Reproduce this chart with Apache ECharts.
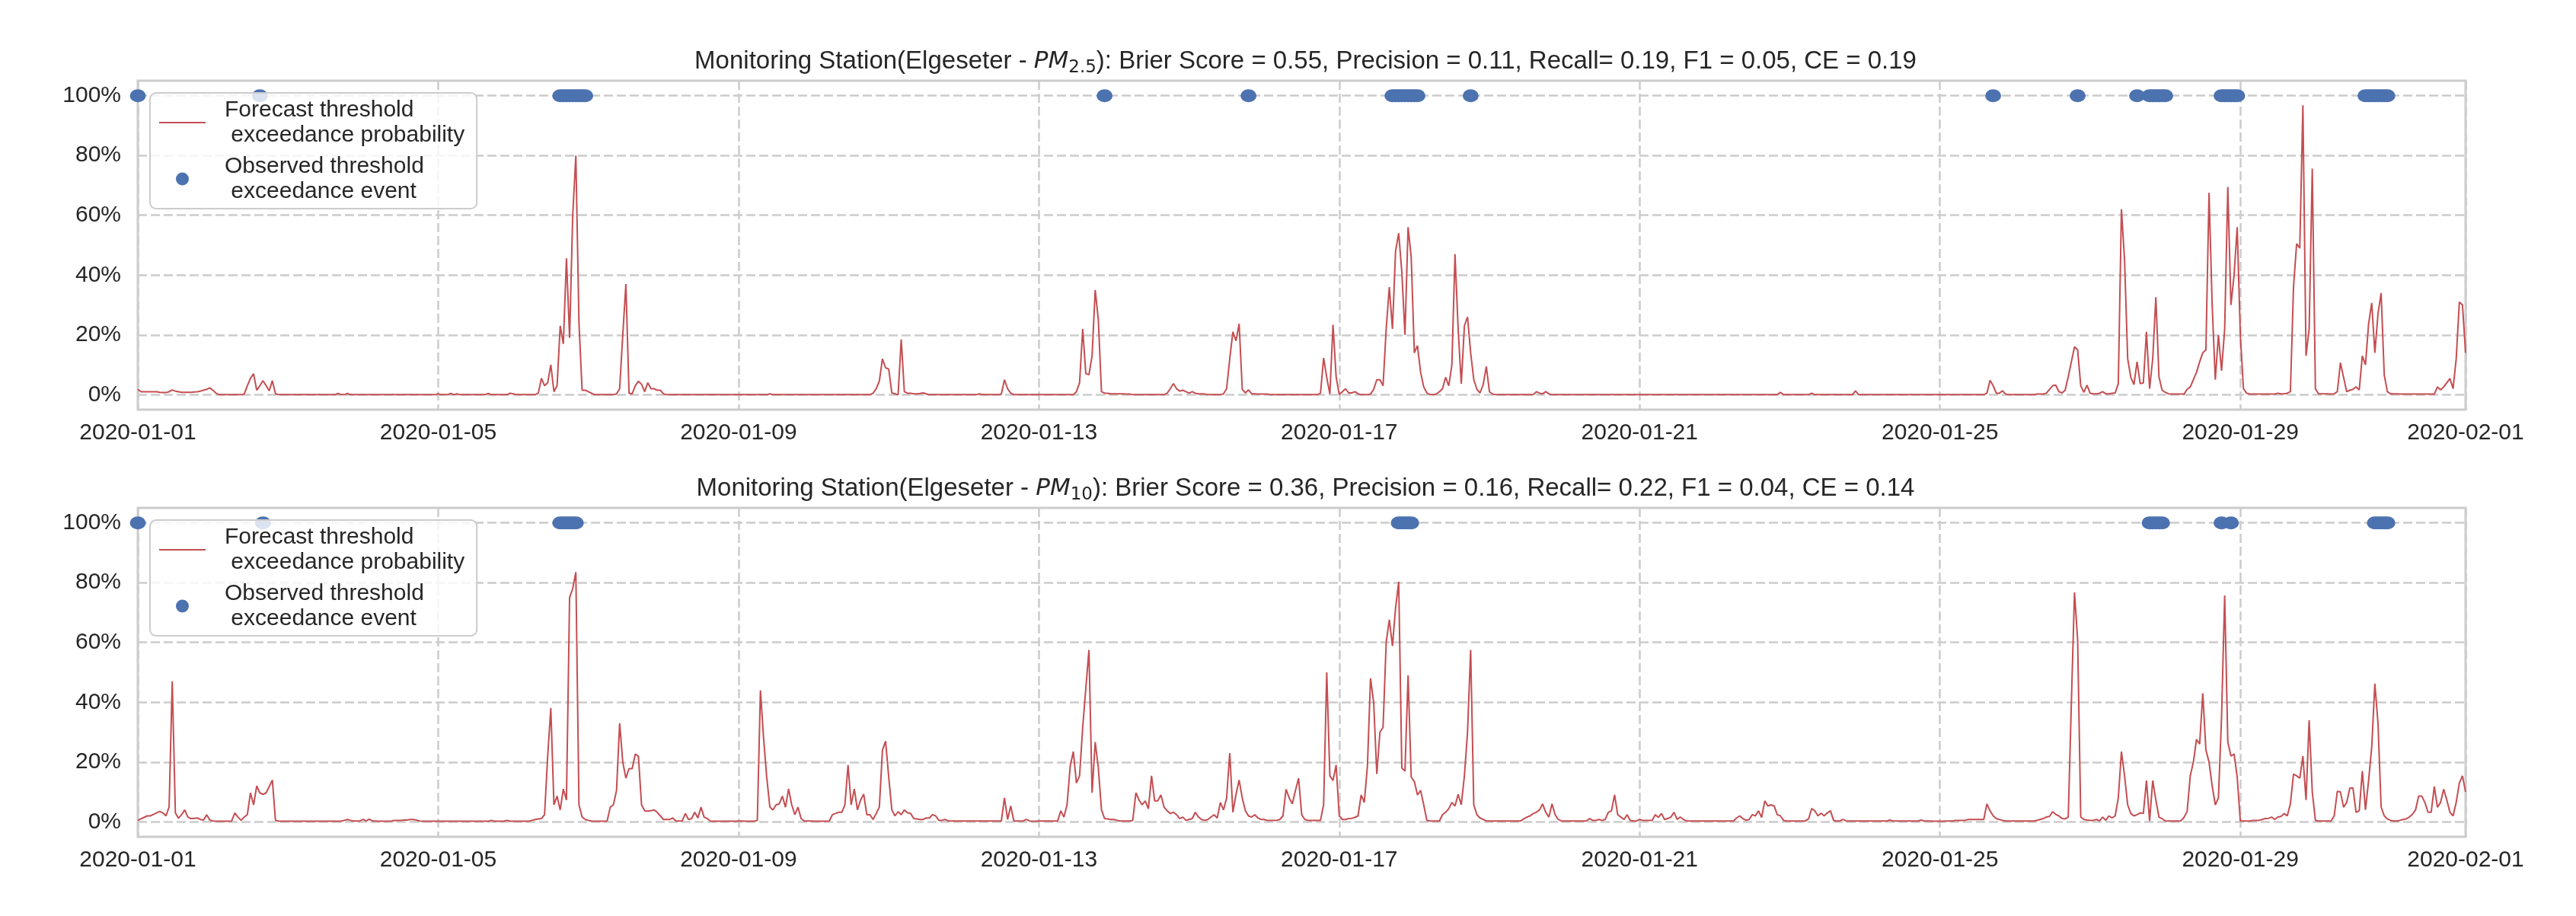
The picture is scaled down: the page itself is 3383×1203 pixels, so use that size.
<!DOCTYPE html>
<html>
<head>
<meta charset="utf-8">
<script src="https://cdn.jsdelivr.net/npm/echarts@6/dist/echarts.min.js"></script>
<style>
  html, body { margin: 0; padding: 0; background: #fff; }
  #main { width: 3383px; height: 1203px; }
</style>
</head>
<body>
<div id="main"></div>
<script>
// hourly forecast exceedance probability (%), one row per day of January 2020
const pm25Days = [
  [1.8,1,1,1,1,1,1,0.8,0.7,0.7,1,1.6,1.2,1,0.8,0.8,0.8,0.8,0.9,1,1.2,1.5,1.8,2.3],
  [1.5,0.5,0,0,0,0,0,0,0,0,0.2,3,5.5,7,1.5,3,4.7,3,1.3,4.7,0.3,0,0,0],
  [0,0,0,0,0,0,0,0,0,0,0,0,0,0,0,0,0.4,0,0,0.4,0,0,0,0],
  [0,0,0,0,0,0,0,0,0,0,0,0,0,0,0,0,0,0,0,0,0,0,0,0],
  [0.3,0,0,0,0.4,0,0.3,0,0,0,0,0,0,0,0,0,0.4,0,0,0,0,0,0,0.5],
  [0.3,0,0,0,0,0,0,0,0.5,5.5,3,4,10,1,3,23,17,45.6,19,60,80,24,1.5,1.5],
  [1,0.5,0,0,0,0,0,0,0,0.3,2,20,37,0.5,0.3,3,4.5,3.5,1,4,2,2,1.5,1.5],
  [0.3,0,0,0,0,0,0,0,0,0,0,0,0,0,0,0,0,0,0,0,0,0,0,0],
  [0,0,0,0,0,0,0,0,0,0,0.3,0,0,0,0,0,0,0,0,0,0,0,0,0],
  [0,0,0,0,0,0,0,0,0,0,0,0,0,0,0,0,0,0,0,0.5,2,4.5,12,9],
  [8.6,0.6,0.3,0,18.5,1,0.5,0.5,0.3,0.3,0.4,0.6,0.3,0,0,0,0,0,0,0,0,0,0,0],
  [0,0,0,0,0,0.3,0,0,0,0,0,0,0.2,5,2,0.5,0,0,0,0,0,0,0,0],
  [0,0,0,0,0,0,0,0,0,0,0,0,1,4,22,7,6.7,13,35,25,1,0.5,0.5,0.3],
  [0.3,0.3,0.3,0.3,0.2,0.2,0,0,0,0,0,0,0,0,0,0,0,0.5,2,3.7,2,1.2,1.5,1],
  [0.5,1,0.5,0.3,0.3,0.2,0,0,0,0,0,0.3,2,12,21,18,23.7,1.8,0.6,1.6,0.3,0.3,0.2,0.2],
  [0.2,0.2,0,0,0,0,0,0,0,0,0,0,0,0,0,0,0,0,0.5,12.3,5.8,0.2,23.4,6],
  [0,1,2,0.6,0.6,1,0.3,0,0,0,0.2,1.8,5,5,3,22,36,22,48,54,41,20,56,46],
  [14,16.4,7.5,2.6,0.6,0,0,0.2,1,2,5.8,3,10,47,22,3.7,23,26,14,5,1.8,0.6,3.4,9.4],
  [1,0.2,0,0,0,0,0,0,0,0,0,0,0,0,0,1,0.5,0.3,1,0.3,0,0,0,0],
  [0,0,0,0,0,0,0,0,0,0,0,0,0,0,0,0,0,0,0,0,0,0,0,0],
  [0,0,0,0,0,0,0,0,0,0,0,0,0,0,0,0,0,0,0,0,0,0,0,0],
  [0,0,0,0,0,0,0,0,0,0,0,0,0,0,0,0,0,0,0,0,0,0.8,0,0],
  [0,0,0,0,0,0,0,0.5,0,0,0,0,0,0,0,0,0,0,0,0,0,1.3,0,0],
  [0,0,0,0,0,0,0,0,0,0,0,0,0,0,0,0,0,0,0,0,0,0,0,0],
  [0,0,0,0,0,0,0,0,0,0,0,0,0,0,0,0.5,4.8,3,0.5,0.5,1.3,0.2,0,0],
  [0,0,0,0,0,0,0,0.2,0.2,0.2,0.5,1.8,3,3.2,1,0.6,1.5,6,11,16,15,3,0.8,3.2],
  [0.5,0.3,0.3,0.5,1,0.3,0.3,0.5,0.6,3.7,62,45,12,5.8,3.4,11,3.7,3.9,21,2,12,32.6,6,1.5],
  [0.8,0.3,0.2,0.2,0.2,0.2,0.2,1.8,2.6,5,7.5,11,14,15,67.5,30,5,20,8,22,69.5,30,40,56],
  [20,2,0.5,0.2,0.2,0.2,0.2,0.2,0.2,0.2,0.2,0.2,0.5,0.3,0.3,0.5,1,36,50.5,49,96.8,13,22,75.6],
  [2,0.3,0.3,0.3,0.3,0.2,0.3,1,10.7,5.8,1,1.5,1.8,2.6,1.6,13,10,23.7,30.7,14,27,34,6.6,1],
  [0.3,0.3,0.3,0.2,0.2,0.2,0.2,0.2,0.2,0.2,0.2,0.2,0.2,0.2,0.2,2.6,1.6,2.6,4,5.4,2,12,31,30,14]
];

const pm10Days = [
  [0.5,1,1.5,2,2,2.5,3,3.5,3,2,5,47,3,1.2,2.4,4,1.6,1.1,1.2,1.3,0.8,0.6,2.4,0.6],
  [0.3,0.2,0.2,0.2,0.2,0.2,0.3,3,1.6,0.5,1.6,2.4,9.7,5.7,12,9.7,9.2,9.7,11.8,14,0.5,0.2,0.2,0.2],
  [0.2,0.2,0.2,0.2,0.2,0.2,0.2,0.2,0.2,0.2,0.2,0.2,0.2,0.2,0.2,0.2,0.2,0.2,0.5,0.8,0.5,0.3,0.3,0.3],
  [0.8,0.3,0.9,0.3,0.3,0.2,0.2,0.2,0.2,0.3,0.5,0.5,0.5,0.6,0.6,0.8,0.8,0.6,0.3,0.2,0.2,0.2,0.2,0.2],
  [0.2,0.2,0.2,0.2,0.2,0.2,0.2,0.2,0.2,0.2,0.2,0.2,0.2,0.2,0.2,0.2,0.2,0.5,0.2,0.2,0.2,0.2,0.5,0.2],
  [0.2,0.2,0.2,0.2,0.2,0.2,0.5,0.8,1,1.1,2.4,22,38,5.7,8.6,4,11,7.3,75,78,83.5,5.7,1.6,0.8],
  [0.5,0.3,0.2,0.2,0.2,0.2,0.3,4.9,5.7,10.5,33,20,14.6,17.8,17.8,22.7,21.9,5.7,3.7,3.6,3.7,4,3.2,2],
  [0.8,0.8,0.8,1.3,0.3,0.3,0.3,2.8,0.8,1.1,3.2,1.3,4.9,1.6,1.1,0.3,0.2,0.2,0.2,0.2,0.2,0.2,0.2,0.2],
  [0.3,0.3,0.2,0.2,0.2,0.2,0.5,44,28,15,5,4,5.7,6,8.6,4.9,11,5.7,2.4,4.9,1.1,0.3,0.3,0.3],
  [0.2,0.2,0.2,0.2,0.2,0.3,2.4,2.8,3.2,3.2,5.7,19,5.7,11,4,7.3,9.3,2.4,2.4,0.8,2.8,4.9,24,27],
  [15,4,2,3.4,2.4,4,3,2.8,1.1,1,0.8,0.8,1.3,1.3,2.4,2,0.5,0.5,0.8,0.3,0.3,0.3,0.3,0.3],
  [0.3,0.3,0.3,0.3,0.3,0.3,0.3,0.3,0.3,0.3,0.3,0.3,0.3,8,0.8,5.3,0.3,0.3,0.3,0.3,0.8,0.3,0.2,0.2],
  [0.3,0.3,0.3,0.3,0.3,0.3,0.3,3.7,1.6,5.7,18.6,23.5,13,15.4,31.6,44.6,57.5,9.7,26.7,18,4,1.1,1,0.8],
  [0.8,0.5,0.3,0.3,0.3,0.3,0.5,9.7,7.3,5.7,7,4.4,15.4,7,7,9,4.9,3.7,2.8,3.2,2.4,1.1,1.6,0.5],
  [0.8,1.1,3.2,1.6,0.8,0.5,0.8,1.6,2.4,1.3,6.5,4,8,23,3.2,9.2,14,8,3.7,2,1.6,2.4,1.3,0.8],
  [0.8,0.5,0.5,0.5,0.5,0.8,2,10.9,8,6,10.5,14.6,2.4,0.8,0.5,0.5,0.5,0.5,0.5,5.7,50,15.4,13.8,19],
  [2,0.8,0.8,1.1,1.2,1.5,2,9,6.5,18.6,48,40,16,30,31.6,60,67.6,58.8,71.5,80.3,18,17,49,15],
  [13.5,9,10.5,5.7,0.5,0.3,0.3,0.3,0.3,2.4,3.2,4.4,6.5,5.3,9.2,5.7,15.4,30,57.5,5.7,2.4,1.3,0.8,0.3],
  [0.3,0.3,0.3,0.3,0.3,0.3,0.3,0.3,0.3,0.3,0.3,1,1.6,2,2.8,3.2,4,6,3.2,1.6,6,2.4,0.8,0.3],
  [0.3,0.3,0.3,0.3,0.3,0.3,0.3,0.3,1.1,0.5,0.5,0.8,0.5,0.8,3.2,3.7,9,2.4,1.6,0.8,2.4,0.5,0.3,0.3],
  [0.8,0.5,0.5,0.5,0.5,2.4,1.5,2.8,0.8,1.1,1.6,3.2,0.8,1.6,0.8,0.3,0.3,0.3,0.3,0.3,0.3,0.3,0.3,0.3],
  [0.3,0.3,0.3,0.3,0.3,0.3,0.3,1.3,2,1.1,0.5,0.8,2.4,2,3.7,1.5,7,5.3,5.7,5.3,2.4,2,0.5,0.3],
  [0.3,0.3,0.3,0.3,0.3,0.3,1,4.5,3.7,2,2.9,2,3,3.7,0.5,0.3,0.3,0.8,0.3,0.3,0.3,0.3,0.3,0.3],
  [0.3,0.3,0.3,0.3,0.3,0.3,0.3,0.3,0.6,0.3,0.3,0.3,0.3,0.3,0.3,0.3,0.3,0.3,0.6,0.3,0.3,0.3,0.2,0.2],
  [0.2,0.2,0.3,0.3,0.3,0.5,0.5,0.5,0.5,0.8,0.8,0.8,0.8,0.8,0.8,6,3.7,2,1.1,0.8,0.5,0.3,0.3,0.3],
  [0.3,0.3,0.3,0.3,0.3,0.3,0.3,0.5,0.8,1.1,1.6,1.8,3.4,2.5,2,1.1,1,1.6,40,76.7,61,1.6,0.8,0.6],
  [0.5,0.5,0.8,0.3,1.6,0.5,2,1.3,2,8,23.5,15.4,5.7,2.8,2,2.4,3,2.8,13.8,0.3,13.8,7.3,1.6,1.1],
  [0.3,0.3,0.3,0.3,0.3,0.3,1.5,3.5,15.4,20,27.6,26,43,24,20,12,5.7,8,35,75.7,26.7,22,22.7,15],
  [0.3,0.3,0.3,0.3,0.5,0.5,0.5,0.8,1.1,1.2,1.6,0.8,1.6,1.8,2.8,2,6,16,15.4,14.6,22,7.3,34,10],
  [0.5,0.3,0.3,0.3,0.3,0.3,2,10.2,10,4.9,6.5,11.3,11.3,3.2,3.7,17,4,13.8,25,46.2,33,5,2,1],
  [0.5,0.3,0.3,0.5,0.8,1,1.6,2.5,4,8.6,8.6,6.5,3.2,3.2,11.8,4.9,6.5,10.9,7.3,3.2,2,6.5,13,15.4,10]
];

// hours (since 2020-01-01 00:00) with an observed threshold exceedance
const pm25Events = [0, 39, 135, 136, 137, 138, 139, 140, 141, 142, 143, 309, 355,
  401, 402, 403, 404, 405, 406, 407, 408, 409, 426, 593, 620, 639,
  643, 644, 645, 646, 647, 648, 666, 667, 668, 669, 670, 671,
  712, 713, 714, 715, 716, 717, 718, 719];
const pm10Events = [0, 40, 135, 136, 137, 138, 139, 140, 403, 404, 405, 406, 407,
  643, 644, 645, 646, 647, 666, 669, 715, 716, 717, 718, 719];

const xTickHours = [0, 96, 192, 288, 384, 480, 576, 672, 744];
const xTickLabels = ['2020-01-01', '2020-01-05', '2020-01-09', '2020-01-13', '2020-01-17',
  '2020-01-21', '2020-01-25', '2020-01-29', '2020-02-01'];
const yTicks = [0, 20, 40, 60, 80, 100];

const titles = [
  'Monitoring Station(Elgeseter - {pm|PM}{sub|2.5}): Brier Score = 0.55, Precision = 0.11, Recall= 0.19, F1 = 0.05, CE = 0.19',
  'Monitoring Station(Elgeseter - {pm|PM}{sub|10}): Brier Score = 0.36, Precision = 0.16, Recall= 0.22, F1 = 0.04, CE = 0.14'
];

const FORECAST = 'Forecast threshold\n exceedance probability';
const OBSERVED = 'Observed threshold\n exceedance event';
const FONT = "'Liberation Sans', Arial, Helvetica, sans-serif";
const TEXT = '#262626';
const GRIDLINE = { color: '#cccccc', width: 2.5, type: [12, 5] };

function toSeriesData(days) {
    const out = [];
    days.forEach(function (row, d) {
        row.forEach(function (v, i) { out.push([d * 24 + i, v]); });
    });
    return out;
}

const chart = echarts.init(document.getElementById('main'), null, { renderer: 'canvas' });

const gridTops = [106, 667];
const panels = [
    { days: pm25Days, events: pm25Events },
    { days: pm10Days, events: pm10Events }
];

const option = {
    animation: false,
    backgroundColor: '#ffffff',
    title: titles.map(function (t, i) {
        return {
            text: t,
            left: 1709.5,
            textAlign: 'center',
            top: gridTops[i] - 50,
            textStyle: {
                fontFamily: FONT, fontSize: 33, fontWeight: 'normal', color: TEXT, lineHeight: 40,
                rich: {
                    pm: { fontFamily: 'DejaVu Sans', fontStyle: 'italic', fontSize: 31, color: TEXT, lineHeight: 40 },
                    sub: { fontFamily: 'DejaVu Sans', fontSize: 23, color: TEXT, lineHeight: 16, verticalAlign: 'bottom' }
                }
            }
        };
    }),
    legend: gridTops.map(function (top) {
        return {
            orient: 'vertical',
            left: 197,
            top: top + 16,
            data: [
                { name: FORECAST, icon: 'path://M0,0L100,0L100,3L0,3Z' },
                { name: OBSERVED, icon: 'circle' }
            ],
            itemWidth: 61,
            itemHeight: 17,
            itemGap: 8,
            padding: [6, 16, 6, 12],
            backgroundColor: 'rgba(255,255,255,0.8)',
            borderColor: '#cccccc',
            borderWidth: 2,
            borderRadius: 8,
            textStyle: { fontFamily: FONT, fontSize: 30, color: TEXT, lineHeight: 33, padding: [0, 0, 0, 20] }
        };
    }),
    grid: gridTops.map(function (top) {
        return {
            left: 181, top: top, width: 3057, height: 432,
            show: true, borderColor: '#cccccc', borderWidth: 3, backgroundColor: '#ffffff'
        };
    }),
    xAxis: gridTops.map(function (_, i) {
        return {
            type: 'value', gridIndex: i, min: 0, max: 744,
            axisLine: { show: false },
            axisTick: { show: false, customValues: xTickHours },
            axisLabel: {
                customValues: xTickHours,
                fontFamily: FONT, fontSize: 30, color: TEXT, margin: 16,
                formatter: function (v) { return xTickLabels[xTickHours.indexOf(v)]; }
            },
            splitLine: { show: true, lineStyle: GRIDLINE }
        };
    }),
    yAxis: gridTops.map(function (_, i) {
        return {
            type: 'value', gridIndex: i, min: -5, max: 105,
            axisLine: { show: false },
            axisTick: { show: false, customValues: yTicks },
            axisLabel: {
                customValues: yTicks,
                fontFamily: FONT, fontSize: 30, color: TEXT, margin: 22,
                formatter: '{value}%'
            },
            splitLine: { show: true, lineStyle: GRIDLINE }
        };
    }),
    series: []
};

panels.forEach(function (p, i) {
    option.series.push({
        name: FORECAST,
        type: 'line',
        xAxisIndex: i, yAxisIndex: i,
        data: toSeriesData(p.days),
        showSymbol: false,
        symbol: 'none',
        lineStyle: { color: '#C44E52', width: 2 },
        itemStyle: { color: '#C44E52' },
        z: 3
    });
    option.series.push({
        name: OBSERVED,
        type: 'scatter',
        xAxisIndex: i, yAxisIndex: i,
        data: p.events.map(function (h) { return [h, 100]; }),
        symbol: 'circle',
        symbolSize: [21, 17],
        itemStyle: { color: '#4C72B0', opacity: 1 },
        clip: true,
        z: 2
    });
});

chart.setOption(option);
</script>
</body>
</html>
